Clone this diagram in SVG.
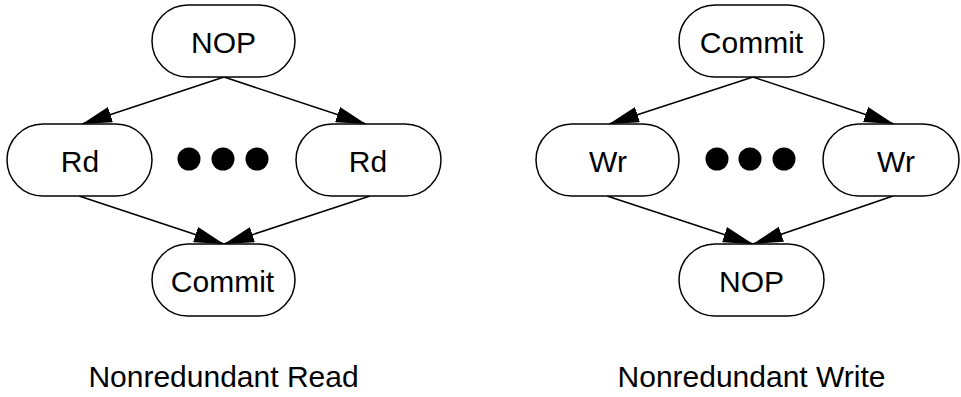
<svg xmlns="http://www.w3.org/2000/svg" width="961" height="397" viewBox="0 0 961 397">
<style>
.node{fill:#fff;stroke:#000;stroke-width:1.5}
.lbl{font-family:"Liberation Sans",Arial,sans-serif;font-size:30px;text-anchor:middle;fill:#000}
.cap{font-family:"Liberation Sans",Arial,sans-serif;font-size:30px;text-anchor:middle;fill:#000}
.edge{stroke:#000;stroke-width:1.5;fill:none;marker-end:url(#arr)}
.dot{fill:#000}
</style>
<defs>
<marker id="arr" viewBox="0 0 30 16" refX="30" refY="8" markerWidth="30" markerHeight="16" markerUnits="userSpaceOnUse" orient="auto">
<path d="M0,0 L30,8 L0,16 z" fill="#000"/>
</marker>
</defs>
<g id="connectors">
<line class="edge" x1="224" y1="77" x2="82" y2="124"/>
<line class="edge" x1="224" y1="77" x2="366" y2="124"/>
<line class="edge" x1="79" y1="196" x2="224" y2="244"/>
<line class="edge" x1="370" y1="196" x2="224" y2="244"/>
<line class="edge" x1="753" y1="77" x2="609" y2="124"/>
<line class="edge" x1="753" y1="77" x2="894" y2="124"/>
<line class="edge" x1="607" y1="196" x2="753" y2="244"/>
<line class="edge" x1="893" y1="196" x2="753" y2="244"/>
</g>
<g id="read-nop"><rect class="node" x="152" y="5" width="143" height="72" rx="36"/><text class="lbl" x="223.5" y="53">NOP</text></g>
<g id="read-rd1"><rect class="node" x="7" y="124" width="145" height="72" rx="36"/><text class="lbl" x="80" y="172">Rd</text></g>
<g id="read-rd2"><rect class="node" x="296" y="124" width="145" height="72" rx="36"/><text class="lbl" x="368" y="172">Rd</text></g>
<g id="read-commit"><rect class="node" x="152" y="244" width="143" height="72" rx="36"/><text class="lbl" x="222.5" y="292">Commit</text></g>
<g id="read-dots"><circle class="dot" cx="189" cy="159" r="11.5"/><circle class="dot" cx="223" cy="159" r="11.5"/><circle class="dot" cx="257" cy="159" r="11.5"/></g>
<g id="write-commit"><rect class="node" x="679" y="5" width="145" height="72" rx="36"/><text class="lbl" x="751.5" y="53">Commit</text></g>
<g id="write-wr1"><rect class="node" x="536" y="124" width="143" height="72" rx="36"/><text class="lbl" x="608" y="172">Wr</text></g>
<g id="write-wr2"><rect class="node" x="823" y="124" width="136" height="72" rx="36"/><text class="lbl" x="896" y="172">Wr</text></g>
<g id="write-nop"><rect class="node" x="679" y="244" width="145" height="72" rx="36"/><text class="lbl" x="751.5" y="292">NOP</text></g>
<g id="write-dots"><circle class="dot" cx="717" cy="159" r="11.5"/><circle class="dot" cx="750" cy="159" r="11.5"/><circle class="dot" cx="784" cy="159" r="11.5"/></g>
<text class="cap" x="223.5" y="387">Nonredundant Read</text>
<text class="cap" x="751.5" y="387">Nonredundant Write</text>
</svg>
